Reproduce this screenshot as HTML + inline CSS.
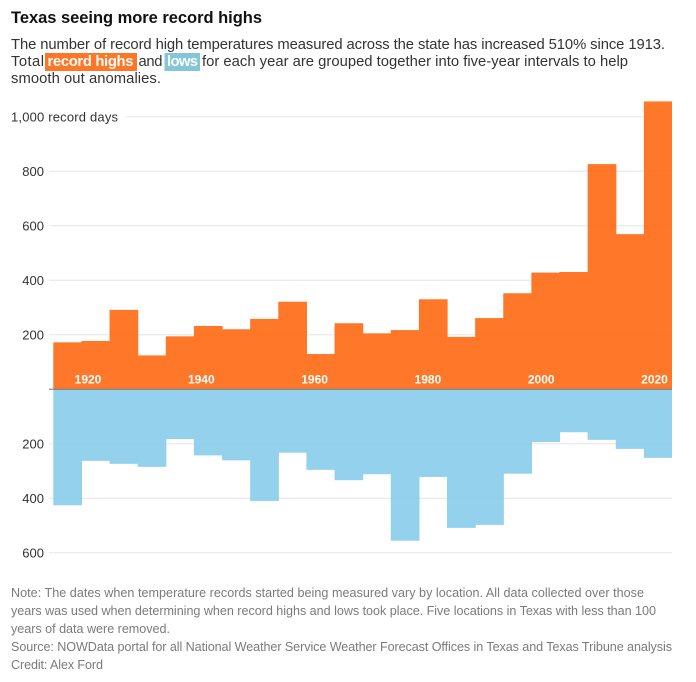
<!DOCTYPE html>
<html lang="en">
<head>
<meta charset="utf-8">
<title>Texas seeing more record highs</title>
<style>
html,body{margin:0;padding:0;background:#fff;width:696px;height:682px;overflow:hidden}
svg{display:block}
text{font-family:"Liberation Sans",sans-serif}
.sub{font-size:14.8px;fill:#333}
.note{font-size:12.6px;fill:#7b7b7b}
.tick{font-size:13px;fill:#333}
.year{font-size:12px;font-weight:700;fill:#fff}
</style>
</head>
<body>
<svg id="chart" xmlns="http://www.w3.org/2000/svg" width="696" height="682" viewBox="0 0 696 682">
  <text x="11" y="23" font-size="16.5" font-weight="700" fill="#111" textLength="251" lengthAdjust="spacing">Texas seeing more record highs</text>
  <g>
    <text class="sub" x="11" y="49" textLength="654" lengthAdjust="spacing">The number of record high temperatures measured across the state has increased 510% since 1913.</text>
    <text class="sub" x="11" y="66" textLength="33" lengthAdjust="spacing">Total</text>
    <rect x="45" y="53" width="92" height="18" fill="#ff7626"/>
    <text class="sub" x="47.5" y="66" style="fill:#fff;font-weight:700" textLength="86" lengthAdjust="spacing">record highs</text>
    <text class="sub" x="138.5" y="66" textLength="24" lengthAdjust="spacing">and</text>
    <rect x="164.5" y="53" width="35.5" height="18" fill="#84c5da"/>
    <text class="sub" x="167" y="66" style="fill:#fff;font-weight:700" textLength="31" lengthAdjust="spacing">lows</text>
    <text class="sub" x="202" y="66" textLength="426" lengthAdjust="spacing">for each year are grouped together into five-year intervals to help</text>
    <text class="sub" x="11" y="83" textLength="150" lengthAdjust="spacing">smooth out anomalies.</text>
  </g>
  <g id="grid"></g>
  <g id="highs" opacity="0.96"></g>
  <g id="lows" opacity="0.96"></g>
  <line x1="49" x2="672" y1="389.2" y2="389.2" stroke="#777" stroke-width="1"/>
  <g id="yearLabels"></g>
  <g id="tickLabels"></g>
  <g>
    <text class="note" x="11" y="597" textLength="633" lengthAdjust="spacing">Note: The dates when temperature records started being measured vary by location. All data collected over those</text>
    <text class="note" x="11" y="615" textLength="645" lengthAdjust="spacing">years was used when determining when record highs and lows took place. Five locations in Texas with less than 100</text>
    <text class="note" x="11" y="633" textLength="159" lengthAdjust="spacing">years of data were removed.</text>
    <text class="note" x="11" y="651" textLength="661" lengthAdjust="spacing">Source: NOWData portal for all National Weather Service Weather Forecast Offices in Texas and Texas Tribune analysis</text>
    <text class="note" x="11" y="669" textLength="92" lengthAdjust="spacing">Credit: Alex Ford</text>
  </g>
</svg>
<script>
const periods = [1915,1920,1925,1930,1935,1940,1945,1950,1955,1960,1965,1970,1975,1980,1985,1990,1995,2000,2005,2010,2015,2020];
const recordHighs = [172,177,291,124,194,232,220,258,321,129,242,205,217,330,192,261,352,428,430,826,569,1056];
const recordLows = [426,263,274,285,183,243,261,410,233,296,334,312,556,322,509,498,310,194,158,186,219,252];
const highTicks = [200,400,600,800,1000];
const lowTicks = [200,400,600];
const yearTicks = [1920,1940,1960,1980,2000,2020];

const NS = 'http://www.w3.org/2000/svg';
const plotLeft = 53.3, plotRight = 672, zeroY = 389.2, pxPerUnit = 0.2725;
const bandWidth = (plotRight - plotLeft) / periods.length;
const xBand = i => plotLeft + i * bandWidth;
const yHigh = v => zeroY - v * pxPerUnit;
const yLow = v => zeroY + v * pxPerUnit;
const xYear = y => 88 + (y - 1920) * 5.665;

function make(tag, attrs, parent, content) {
  const el = document.createElementNS(NS, tag);
  for (const k in attrs) el.setAttribute(k, attrs[k]);
  if (content !== undefined) el.textContent = content;
  parent.appendChild(el);
  return el;
}
const grid = document.getElementById('grid');
const tickLabels = document.getElementById('tickLabels');
const yearLabels = document.getElementById('yearLabels');
const highs = document.getElementById('highs');
const lows = document.getElementById('lows');

highTicks.forEach(t => {
  const y = yHigh(t);
  const line = make('line', {x1: t === 1000 ? 126 : 49, x2: plotRight, y1: y, y2: y, stroke: '#e6e6e6', 'stroke-width': 1}, grid);
  
  
  const isTop = t === 1000;
  const label = make('text', {class: 'tick', x: isTop ? 11 : 44, y: y + 4.8, 'text-anchor': isTop ? 'start' : 'end'}, tickLabels,
    isTop ? t.toLocaleString('en-US') + ' record days' : String(t));
  if (isTop) { label.setAttribute('textLength', '107'); label.setAttribute('lengthAdjust', 'spacing'); }
  
  
});
lowTicks.forEach(t => {
  const y = yLow(t);
  const line = make('line', {x1: 49, x2: plotRight, y1: y, y2: y, stroke: '#e6e6e6', 'stroke-width': 1}, grid);
  
  
  const label = make('text', {class: 'tick', x: 44, y: y + 4.8, 'text-anchor': 'end'}, tickLabels, String(t));
  
  
});
periods.forEach((p, i) => {
  const overlap = i < periods.length - 1 ? 0.6 : 0;
  const hi = make('rect', {x: xBand(i), y: yHigh(recordHighs[i]), width: bandWidth + overlap, height: zeroY - yHigh(recordHighs[i]), fill: '#ff7220'}, highs);
  
  
  const lo = make('rect', {x: xBand(i), y: zeroY, width: bandWidth + overlap, height: yLow(recordLows[i]) - zeroY, fill: '#8fd0ec'}, lows);
  
  
});
yearTicks.forEach(y => {
  const label = make('text', {class: 'year', x: xYear(y), y: 383.5, 'text-anchor': 'middle'}, yearLabels, String(y));
  
  
});
</script>
</body>
</html>
